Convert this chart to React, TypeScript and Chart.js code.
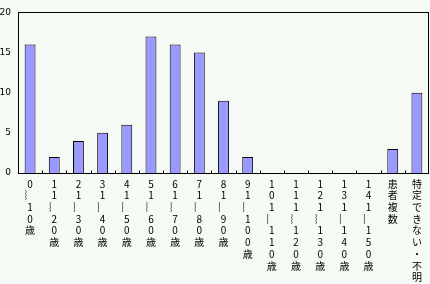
import React, { useEffect, useRef } from "react";
import { Chart, registerables } from "chart.js";

Chart.register(...registerables);

const categories: string[] = [
  "0～10歳",
  "11～20歳",
  "21～30歳",
  "31～40歳",
  "41～50歳",
  "51～60歳",
  "61～70歳",
  "71～80歳",
  "81～90歳",
  "91～100歳",
  "101～110歳",
  "111～120歳",
  "121～130歳",
  "131～140歳",
  "141～150歳",
  "患者複数",
  "特定できない・不明",
];
const counts: number[] = [16, 2, 4, 5, 6, 17, 16, 15, 9, 2, 0, 0, 0, 0, 0, 3, 10];
const yTicks: number[] = [0, 5, 10, 15, 20];

const verticalLabel = (s: string): string[] =>
  Array.from(s).map((c) => (c === "～" ? "︴" : c));

const framePlugin = {
  id: "frame",
  beforeDraw(chart: any) {
    const { ctx, width, height } = chart;
    ctx.save();
    ctx.fillStyle = "#F5FAF5";
    ctx.fillRect(0, 0, width, height);
    ctx.restore();
  },
  afterDraw(chart: any) {
    const { ctx, chartArea } = chart;
    const { left, right, top, bottom } = chartArea;
    ctx.save();
    ctx.strokeStyle = "#000";
    ctx.lineWidth = 1;
    ctx.strokeRect(Math.round(left) + 0.5, Math.round(top) + 0.5, Math.round(right - left) - 1, Math.round(bottom - top));
    const n = categories.length;
    const w = (right - left) / n;
    ctx.beginPath();
    for (let i = 1; i < n; i++) {
      const x = Math.round(left + i * w) + 0.5;
      ctx.moveTo(x, Math.round(bottom) + 0.5);
      ctx.lineTo(x, Math.round(bottom) - 2.5);
    }
    ctx.stroke();
    ctx.restore();
  },
};

export default function App() {
  const ref = useRef<HTMLCanvasElement | null>(null);
  useEffect(() => {
    document.body.style.margin = "0";
    if (!ref.current) return;
    const chart = new Chart(ref.current, {
      type: "bar",
      data: {
        labels: categories.map(verticalLabel),
        datasets: [
          {
            data: counts,
            backgroundColor: "#9999FF",
            borderColor: "#000000",
            borderWidth: 1,
            barPercentage: 0.45,
            categoryPercentage: 1,
          },
        ],
      },
      options: {
        animation: false,
        responsive: false,
        devicePixelRatio: 1,
        layout: { padding: { top: 3, right: 1, left: 0, bottom: 0 } },
        plugins: { legend: { display: false }, tooltip: { enabled: false } },
        scales: {
          x: {
            grid: { display: false, drawTicks: false },
            border: { display: false },
            ticks: {
              autoSkip: false,
              maxRotation: 0,
              minRotation: 0,
              padding: 5,
              color: "#000",
              font: { family: "'Noto Sans CJK JP', sans-serif", size: 10, lineHeight: "11.7px" },
            },
            afterFit(scale: any) {
              scale.height = 111;
            },
          },
          y: {
            min: 0,
            max: 20,
            afterBuildTicks(scale: any) {
              scale.ticks = yTicks.map((v) => ({ value: v }));
            },
            grid: { display: false, drawTicks: false },
            border: { display: false },
            ticks: {
              padding: 7,
              color: "#000",
              font: { family: "'DejaVu Sans', sans-serif", size: 9 },
            },
            afterFit(scale: any) {
              scale.width = 18;
            },
          },
        },
      },
      plugins: [framePlugin],
    });
    return () => chart.destroy();
  }, []);
  return (
    <div style={{ width: 430, height: 284 }}>
      <canvas ref={ref} width={430} height={284} style={{ display: "block" }} />
    </div>
  );
}
